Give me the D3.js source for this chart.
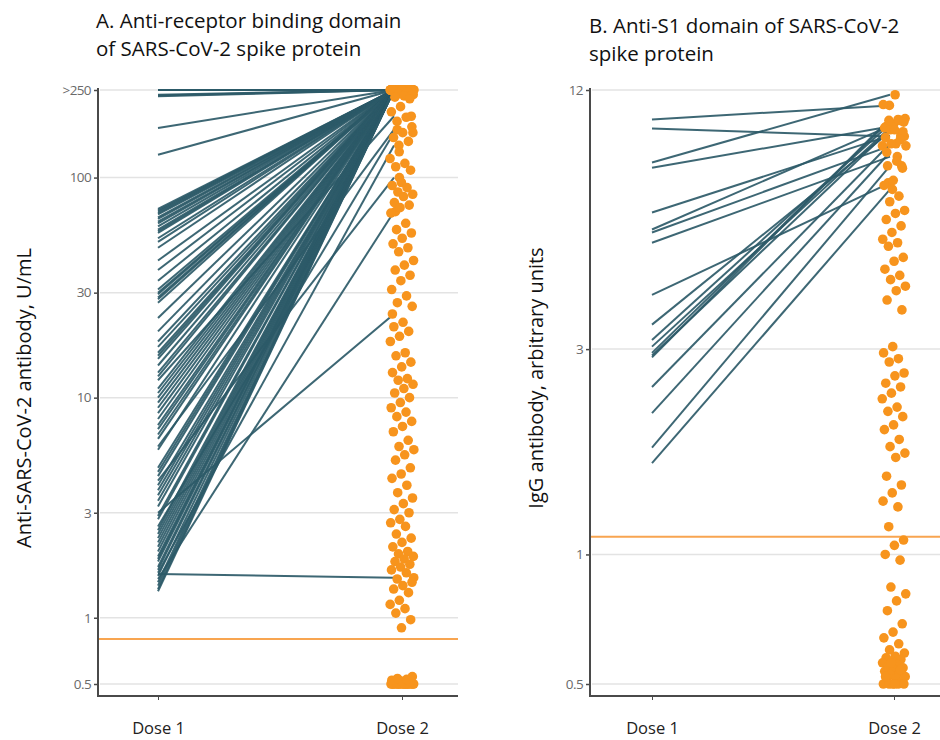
<!DOCTYPE html>
<html>
<head>
<meta charset="utf-8">
<script src="https://cdn.jsdelivr.net/npm/d3@7"></script>
<style>
  html, body { margin: 0; padding: 0; background: #fff; }
  svg { display: block; font-family: "Open Sans", "Noto Sans", sans-serif; }
</style>
</head>
<body>
<svg id="chart" width="940" height="740"></svg>
<script>
// ---- Panel A: anti-RBD antibody, U/mL ----
const doses = ["Dose 1", "Dose 2"];

const rbdDose1 = [250, 250, 250, 238, 236, 234, 168, 127,
  72, 71, 70, 69, 68, 66, 65, 63, 62, 60, 58, 57, 56, 53, 51, 48, 42, 38, 34, 31, 30, 29.5,
  28.5, 28, 27, 23, 20, 18, 17, 16, 15.5, 15, 14, 13, 12.5, 12, 11, 10.5, 10, 9.5, 9, 8.5,
  8, 7.5, 7.2, 6.8, 6.5, 6, 5.8, 4.8, 4.6, 4.4, 4.2, 4.0, 3.8, 3.6, 3.4, 3.2, 3.0, 2.9,
  2.8, 2.6, 2.5, 2.4, 2.3, 2.2, 2.1, 2.0, 1.9, 1.85, 1.8, 1.7, 1.65, 1.6, 1.58, 1.55,
  1.5, 1.45, 1.4, 1.35, 1.32];
const rbdDose2Paired = [250, 250, 250, 250, 250, 250, 250, 250,
  250, 250, 250, 250, 250, 250, 250, 250, 250, 250, 250, 250, 250, 250, 250, 250, 250, 250, 250, 250, 250, 250,
  250, 250, 250, 250, 250, 250, 250, 250, 250, 250, 250, 250, 250, 190, 250, 250, 250, 250, 250, 250,
  250, 250, 250, 250, 250, 165, 250, 250, 250, 250, 100, 250, 250, 250, 250, 250, 24, 250,
  250, 160, 250, 250, 250, 250, 250, 250, 250, 250, 250, 250, 250, 140, 1.52, 250,
  70, 250, 250, 250, 250];
const rbdDose2Only = [250, 250, 250, 250, 250, 250, 250, 250, 250, 250, 250, 250, 245, 240, 238, 235, 232, 228,
  210, 199, 188, 180, 170, 160, 152, 146, 131, 122, 116, 112, 108, 95, 92, 90, 86, 84, 82, 77, 75, 73,
  69, 62, 58, 56, 53, 50, 48, 46, 42, 40, 38, 36, 34, 31, 29, 27, 26, 22, 21, 20, 19, 18, 16,
  15.5, 14.5, 13.8, 13, 12.2, 12, 11.5, 11, 10.5, 10, 9.5, 9, 8.6, 8.2, 7.8, 7.4, 7, 6.4, 6.0, 5.8,
  5.5, 5.2, 4.8, 4.5, 4.3, 4.0, 3.7, 3.5, 3.3, 3.1, 3.0, 2.8, 2.7, 2.6, 2.4, 2.3, 2.2, 2.1, 2.0,
  1.95, 1.9, 1.85, 1.8, 1.75, 1.7, 1.65, 1.6, 1.5, 1.45, 1.4, 1.35, 1.3, 1.2, 1.15, 1.1, 1.05,
  0.98, 0.9,
  0.5, 0.5, 0.5, 0.5, 0.5, 0.5, 0.5, 0.5, 0.5, 0.5, 0.5, 0.5, 0.5, 0.5, 0.5, 0.5, 0.5, 0.5,
  0.51, 0.51, 0.515, 0.52, 0.525, 0.53, 0.54];
const rbdTicks = [0.5, 1, 3, 10, 30, 100, 250];
const rbdTickLabels = ["0.5", "1", "3", "10", "30", "100", ">250"];
const rbdCutoff = 0.8;

// ---- Panel B: anti-S1 IgG, arbitrary units ----
const s1Dose1 = [10.25, 9.77, 8.14, 7.92, 6.23, 5.69, 5.6, 5.3, 4.01, 3.42, 3.15, 3.04, 2.94, 2.9, 2.87,
  2.45, 2.13, 1.77, 1.63];
const s1Dose2Paired = [11.05, 9.36, 11.7, 9.87, 9.4, 9.9, 8.9, 8.4, 7.3, 9.6, 10.0, 9.8, 10.2, 9.7, 10.3,
  9.0, 8.6, 8.0, 7.05];
const s1Dose2Only = [11.1, 10.25, 10.2, 10.1, 9.7, 9.3, 9.2, 9.0, 8.9, 8.2, 8.0, 7.9, 7.4, 7.2, 6.8, 6.6, 6.3,
  6.2, 6.0, 5.8, 5.6, 5.4, 5.3, 5.2, 4.9, 4.8, 4.6, 4.45, 4.35, 4.2, 4.1, 3.9, 3.7,
  3.04, 2.94, 2.85, 2.8, 2.64, 2.6, 2.5, 2.45, 2.37, 2.3, 2.2, 2.15, 2.09, 2.0, 1.95, 1.85, 1.78,
  1.72, 1.68, 1.52, 1.45, 1.39, 1.33, 1.29, 1.16, 1.08, 1.05, 1.0, 0.97, 0.84, 0.81, 0.78, 0.74,
  0.69, 0.66, 0.64, 0.62, 0.6, 0.59, 0.58, 0.575, 0.57, 0.565, 0.56, 0.555, 0.55, 0.545, 0.54,
  0.535, 0.53, 0.525, 0.52, 0.515, 0.51, 0.505, 0.5, 0.5, 0.5, 0.5, 0.5, 0.5, 0.52, 0.54, 0.56];
const s1Ticks = [0.5, 1, 3, 12];
const s1TickLabels = ["0.5", "1", "3", "12"];
const s1Cutoff = 1.1;

const LINE = "#2c5a68";
const DOT = "#f7941d";
const CUT = "#f8a550";
const GRID = "#e3e3e3";
const AXIS = "#4a4a4a";

const svg = d3.select("#chart");

// Evenly spread horizontal offsets for the Dose 2 column (golden-ratio sequence)
function spread(i) { return ((i * 0.6180339887 + 0.31) % 1) * 2 - 1; }

function panel(cfg) {
  const g = svg.append("g");
  const y = d3.scaleLog().domain(cfg.domain).range([684, 90]);
  const x = d3.scalePoint().domain(doses).range([cfg.x1, cfg.x2]);

  // gridlines
  g.selectAll("line.grid").data(cfg.ticks).join("line")
    .attr("x1", cfg.left + 2).attr("x2", cfg.right)
    .attr("y1", d => y(d)).attr("y2", d => y(d))
    .attr("stroke", GRID).attr("stroke-width", 1.5);

  // cutoff line
  g.append("line")
    .attr("x1", cfg.left).attr("x2", cfg.right)
    .attr("y1", y(cfg.cutoff)).attr("y2", y(cfg.cutoff))
    .attr("stroke", CUT).attr("stroke-width", 2);

  // paired lines
  g.selectAll("line.pair").data(cfg.d1).join("line")
    .attr("x1", x("Dose 1")).attr("y1", d => y(d))
    .attr("x2", x("Dose 2") - cfg.endInset).attr("y2", (d, i) => y(cfg.d2p[i]))
    .attr("stroke", LINE).attr("stroke-width", 2).attr("stroke-opacity", 0.92);

  // Dose 2 points
  const pts = cfg.d2p.concat(cfg.d2o);
  g.selectAll("circle").data(pts).join("circle")
    .attr("cx", (d, i) => x("Dose 2") + cfg.jit * spread(i))
    .attr("cy", d => y(d))
    .attr("r", 4.8)
    .attr("fill", DOT);

  // y axis
  const yAxis = d3.axisLeft(y).tickValues(cfg.ticks)
    .tickFormat((d, i) => cfg.labels[i]).tickSize(4).tickPadding(3);
  const ya = g.append("g").attr("transform", `translate(${cfg.left},0)`).call(yAxis);
  ya.select(".domain").remove();
  ya.selectAll(".tick line").attr("stroke", AXIS).attr("stroke-width", 1.5);
  ya.selectAll(".tick text").attr("fill", "#6a6a6a").attr("font-size", 13.5)
    .attr("font-family", "Open Sans, sans-serif").attr("letter-spacing", "-0.6px");
  g.append("line").attr("x1", cfg.left).attr("x2", cfg.left).attr("y1", 88).attr("y2", 697)
    .attr("stroke", AXIS).attr("stroke-width", 2);

  // x axis
  const xAxis = d3.axisBottom(x).tickSize(4).tickPadding(22);
  const xa = g.append("g").attr("transform", "translate(0,696)").call(xAxis);
  xa.select(".domain").remove();
  xa.selectAll(".tick line").attr("stroke", AXIS).attr("stroke-width", 1);
  xa.selectAll(".tick text").attr("fill", "#222").attr("font-size", 16.5)
    .attr("font-family", "Open Sans, sans-serif");
  g.append("line").attr("x1", cfg.left - 1).attr("x2", cfg.axisRight).attr("y1", 696).attr("y2", 696)
    .attr("stroke", AXIS).attr("stroke-width", 2);

  // y axis title
  g.append("text")
    .attr("transform", `translate(${cfg.titleX},${cfg.titleY}) rotate(-90)`)
    .attr("text-anchor", "middle").attr("font-size", 20).attr("fill", "#111")
    .text(cfg.yTitle);

  // panel heading
  const h = g.append("text").attr("x", cfg.headX).attr("font-size", 20.5).attr("fill", "#111");
  cfg.heading.forEach((t, i) => {
    h.append("tspan").attr("x", cfg.headX).attr("y", cfg.headY + i * 28).text(t);
  });
}

panel({
  domain: [0.5, 250], ticks: rbdTicks, labels: rbdTickLabels, cutoff: rbdCutoff,
  d1: rbdDose1, d2p: rbdDose2Paired, d2o: rbdDose2Only,
  left: 98, right: 458, axisRight: 458, x1: 158, x2: 402, jit: 12, endInset: 8,
  yTitle: "Anti-SARS-CoV-2 antibody, U/mL", titleX: 31, titleY: 398,
  heading: ["A. Anti-receptor binding domain", "of SARS-CoV-2 spike protein"], headX: 96, headY: 28
});

panel({
  domain: [0.5, 12], ticks: s1Ticks, labels: s1TickLabels, cutoff: s1Cutoff,
  d1: s1Dose1, d2p: s1Dose2Paired, d2o: s1Dose2Only,
  left: 590, right: 940, axisRight: 940, x1: 652, x2: 894, jit: 12, endInset: 4,
  yTitle: "IgG antibody, arbitrary units", titleX: 543, titleY: 378,
  heading: ["B. Anti-S1 domain of SARS-CoV-2", "spike protein"], headX: 589, headY: 33
});
</script>
</body>
</html>
